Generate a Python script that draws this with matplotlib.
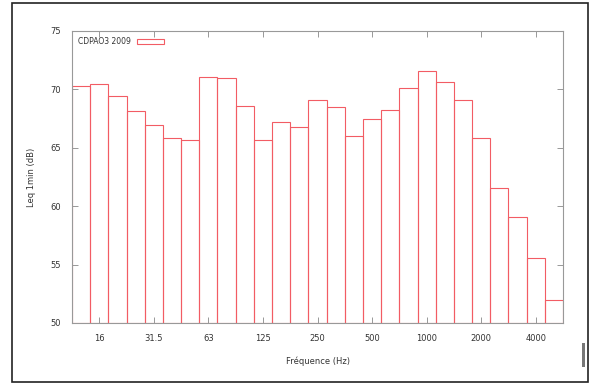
import matplotlib
matplotlib.use("Agg")
import matplotlib.pyplot as plt
from matplotlib.patches import Rectangle

bands = ["12.5", "16", "20", "25", "31.5", "40", "50", "63", "80", "100", "125", "160",
         "200", "250", "315", "400", "500", "630", "800", "1000", "1250", "1600",
         "2000", "2500", "3150", "4000", "5000"]
values = [70.3, 70.5, 69.4, 68.15, 66.95, 65.85, 65.7, 71.05, 71.0, 68.6, 65.7, 67.2,
          66.8, 69.1, 68.5, 66.0, 67.5, 68.2, 70.1, 71.6, 70.6, 69.1,
          65.8, 61.6, 59.1, 55.6, 52.0]
tick_labels = ["16", "31.5", "63", "125", "250", "500", "1000", "2000", "4000"]
series_name = "CDPAO3 2009"

W, H = 596, 383
fig = plt.figure(figsize=(W / 100, H / 100), dpi=100)
fig.patch.set_facecolor("white")

# outer frame
fig.add_artist(Rectangle((12 / W, 1 - 382 / H), (588 - 12) / W, (382 - 3) / H,
                         transform=fig.transFigure, fill=False, edgecolor="#222222", lw=1.2))
# small gray bar at right
fig.add_artist(Rectangle((582 / W, 1 - 367 / H), 3 / W, 24 / H,
                         transform=fig.transFigure, facecolor="#777777", edgecolor="none"))

ax = fig.add_axes([72 / W, 1 - 323 / H, (563 - 72) / W, (323 - 31) / H])
x = list(range(len(bands)))
ax.bar(x, [v - 50 for v in values], bottom=50, width=1.0, fill=False,
       edgecolor="#f25c64", linewidth=0.8, label=series_name)

ax.set_xlim(-0.5, len(bands) - 0.5)
ax.set_ylim(50, 75)
ax.set_yticks([50, 55, 60, 65, 70, 75])
ax.set_yticklabels(["50", "55", "60", "65", "70", "75"])
ax.set_xticks([bands.index(t) for t in tick_labels])
ax.set_xticklabels(tick_labels)
ax.tick_params(direction="in", length=4, width=0.6, colors="#888888",
               labelcolor="#333333", labelsize=6, top=True, right=True, pad=8)
for s in ax.spines.values():
    s.set_color("#999999")
    s.set_linewidth(0.8)

ax.set_xlabel("Fréquence (Hz)", fontsize=6, color="#333333", labelpad=10)
ax.set_ylabel("Leq 1min (dB)", fontsize=6, color="#333333", labelpad=10)

leg = ax.legend(loc="upper left", frameon=False, fontsize=5.5, markerfirst=False,
                handlelength=3.5, handleheight=0.8, borderaxespad=0.4)
for t in leg.get_texts():
    t.set_color("#333333")

fig.savefig("out.png", dpi=100)
